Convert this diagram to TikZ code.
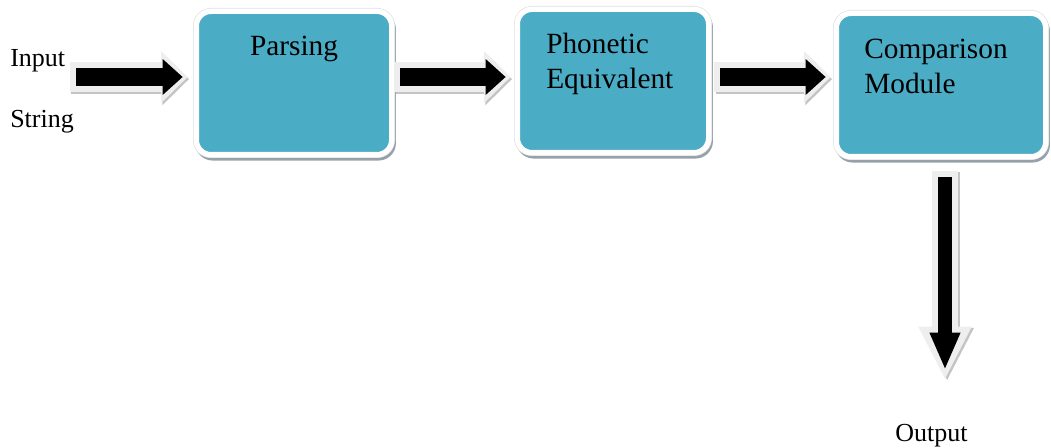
\documentclass[tikz,border=0pt]{standalone}
\usepackage{fontspec}
\setmainfont{Liberation Serif}
\usetikzlibrary{arrows.meta,calc}

\definecolor{boxfill}{RGB}{75,172,198}
\definecolor{haloc}{RGB}{238,238,238}
\definecolor{shadowc}{RGB}{196,196,196}
\definecolor{boxshadow}{RGB}{150,162,170}

\tikzset{
	blockbox/.style={rounded corners=11pt, fill=boxfill, draw=white, line width=4pt, inner sep=0pt, minimum height=107.5pt,
		preaction={draw=boxshadow, fill=boxshadow, line width=4pt, transform canvas={xshift=1.2pt,yshift=-2.4pt}},
		preaction={draw=black!12, line width=5pt}},
	harrow/.style={line width=13.5pt, -{Triangle[length=15pt,width=26pt]},
		preaction={draw=shadowc, line width=22pt, -{Triangle[length=20pt,width=38pt]}, shorten >=-3.75pt, shorten <=-4.5pt, transform canvas={xshift=1pt,yshift=-1.6pt}},
		preaction={draw=haloc, line width=22pt, -{Triangle[length=20pt,width=38pt]}, shorten >=-3.75pt, shorten <=-4.5pt}},
	varrow/.style={line width=10pt, -{Triangle[length=28pt,width=21pt]},
		preaction={draw=shadowc, line width=19.5pt, -{Triangle[length=40pt,width=37pt]}, shorten >=-7.5pt, shorten <=-5pt, transform canvas={xshift=1.6pt,yshift=-1pt}},
		preaction={draw=haloc, line width=19.5pt, -{Triangle[length=40pt,width=37pt]}, shorten >=-7.5pt, shorten <=-5pt}},
	boxlabel/.style={font=\fontsize{22}{26.5}\selectfont, align=left, inner sep=0pt},
	outlabel/.style={font=\fontsize{19.5}{23}\selectfont, inner sep=0pt, anchor=base west}
}

\begin{document}
\begin{tikzpicture}[x=0.75pt,y=0.75pt,yscale=-1,xscale=1]
		\useasboundingbox (0,0) rectangle (1051,448);
		
		%blocks
		\node[blockbox, minimum width=146.5pt] (parse) at (294,83) {};
		\node[blockbox, minimum width=143.5pt] (phon) at (613,81) {};
		\node[blockbox, minimum width=157pt] (comp) at (941,85) {};
		
		%base is the last line here
		\node[boxlabel, anchor=base] (parsetxt) at (294,56) {Parsing};
		\node[boxlabel, anchor=base west] (phontxt) at (546,89) {Phonetic\\Equivalent};
		\node[boxlabel, anchor=base west] (comptxt) at (864,94) {Comparison\\Module};
		
		%outside texts
		\node[outlabel] (inlbl) at (10,67) {Input};
		\node[outlabel] (strlbl) at (10,128) {String};
		\node[outlabel] (outlbl) at (895,442) {Output};
		
		\coordinate (in) at (76,77);
		\coordinate (dn) at (945,370);
		
		%arrows
		\draw[harrow] (in) -- ($(parse.west |- in)+(-11,0)$);
		\draw[harrow] ($(parse.east |- in)+(6,0)$) -- ($(phon.west |- in)+(-9,0)$);
		\draw[harrow] ($(phon.east |- in)+(9,0)$) -- ($(comp.west |- in)+(-8,0)$);
		\draw[varrow] ($(comp.south -| dn)+(0,18)$) -- (dn);
		
\end{tikzpicture}
\end{document}
